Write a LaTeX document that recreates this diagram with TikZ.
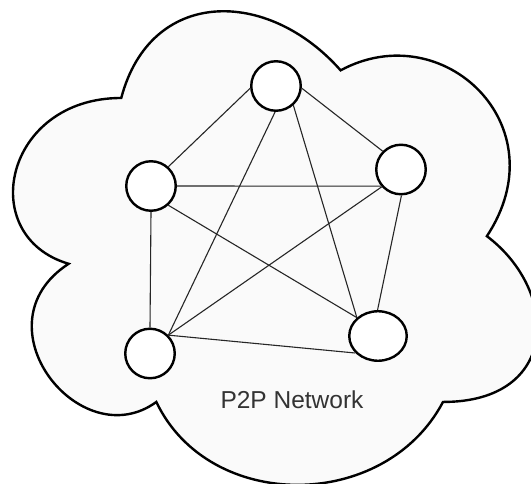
\documentclass[tikz,border=0pt]{standalone}
\usepackage{fontspec}
\setmainfont{Liberation Sans}
\usetikzlibrary{shapes.geometric}

\definecolor{cloudfill}{HTML}{FAFAFA}
\definecolor{labelgrey}{HTML}{333333}

\tikzset{
  cloudline/.style={draw=black, line width=2.4pt, fill=cloudfill, line join=miter},
  peer/.style={circle, draw=black, line width=2.4pt, fill=white, inner sep=0pt, minimum size=49.5pt},
  peerwide/.style={ellipse, draw=black, line width=2.4pt, fill=white, inner sep=0pt,
                   minimum width=57.5pt, minimum height=49.5pt},
  link/.style={draw=black!85, line width=1.1pt},
  caption/.style={font=\fontsize{24.5pt}{28pt}\selectfont, text=labelgrey}
}

\begin{document}
\begin{tikzpicture}[x=1pt, y=-1pt]
  \useasboundingbox (0,0) rectangle (531,484);

  % cloud outline: six Bezier lobes in a unit box, scaled to the frame
  \begin{scope}[shift={(-25,-40.2)}, x=585pt, y=-552.7pt]
    \path[cloudline]
      (0.25,0.25) .. controls (0.05,0.25) and (0,0.5) .. (0.16,0.55)
      .. controls (0,0.66) and (0.18,0.9) .. (0.31,0.8)
      .. controls (0.4,1) and (0.7,1) .. (0.8,0.8)
      .. controls (1,0.8) and (1,0.6) .. (0.875,0.5)
      .. controls (1,0.3) and (0.8,0.1) .. (0.625,0.2)
      .. controls (0.5,0.05) and (0.3,0.05) .. (0.25,0.25)
      -- cycle;
  \end{scope}

  % peers
  \node[peer] (t)  at (276,86)    {};
  \node[peer] (l)  at (151,186)   {};
  \node[peer] (r)  at (401,169.5) {};
  \node[peer] (bl) at (150,353.5) {};
  \node[peerwide] (br) at (378,336) {};

  % full mesh of links
  \draw[link] (t.185) -- (l.48);
  \draw[link] (t.268) -- (bl.45);
  \draw[link] (t.312) -- (br.139);
  \draw[link] (t.355) -- (r.135);
  \draw[link] (l.0)   -- (r.220);
  \draw[link] (l.312) -- (br.139);
  \draw[link] (l.270) -- (bl.90);
  \draw[link] (r.222) -- (bl.45);
  \draw[link] (r.271) -- (br.91);
  \draw[link] (bl.45) -- (br.217);

  \node[caption] (cap) at (292,400) {P2P Network};
\end{tikzpicture}
\end{document}
